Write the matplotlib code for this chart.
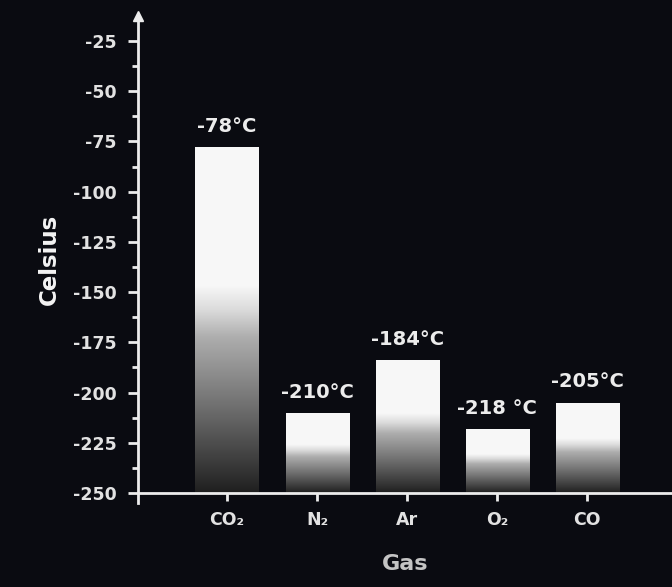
import numpy as np
import matplotlib
matplotlib.use("Agg")
import matplotlib.pyplot as plt

# Boiling points of common atmospheric gases
gases = ["CO\u2082", "N\u2082", "Ar", "O\u2082", "CO"]
temps = [-78, -210, -184, -218, -205]
labels = ["-78\u00b0C", "-210\u00b0C", "-184\u00b0C", "-218 \u00b0C", "-205\u00b0C"]
yticks = [-25, -50, -75, -100, -125, -150, -175, -200, -225, -250]

BG = "#0a0b11"
FG = "#ececec"
BASE = -250

plt.rcParams["font.family"] = ["DejaVu Sans"]
plt.rcParams["font.weight"] = "bold"

fig = plt.figure(figsize=(6.72, 5.87), dpi=100, facecolor=BG)
ax = fig.add_axes([0.205, 0.143, 0.795, 0.830])
ax.set_facecolor(BG)

x = np.arange(len(gases))
bars = ax.bar(x, np.array(temps) - BASE, bottom=BASE, width=0.7,
              color="none", edgecolor="none", zorder=2)

# white top, fading to dark grey toward the base of each bar
t = np.linspace(0, 1, 256)
shade = np.interp(t, [0, 0.06, 0.26, 0.45, 0.53, 0.6, 1],
                  [0.12, 0.2, 0.45, 0.68, 0.86, 0.97, 0.97])
grad = np.dstack([shade, shade, shade])[0][:, None, :]
for rect in bars:
    x0, w = rect.get_x(), rect.get_width()
    y0, h = rect.get_y(), rect.get_height()
    im = ax.imshow(grad, extent=[x0, x0 + w, y0, y0 + h], origin="lower",
                   aspect="auto", zorder=2, interpolation="bilinear")
    im.set_clip_path(rect)

for xi, v, lab in zip(x, temps, labels):
    ax.annotate(lab, (xi, v), xytext=(0, 8), textcoords="offset points",
                ha="center", va="bottom", color=FG, fontsize=14,
                fontweight="bold")

ax.set_xlim(-0.99, 4.94)
ax.set_ylim(-255, -12.5)

for s in ["top", "right"]:
    ax.spines[s].set_visible(False)
ax.spines["bottom"].set_position(("data", BASE))
for s in ["left", "bottom"]:
    ax.spines[s].set_color(FG)
    ax.spines[s].set_linewidth(2)
    ax.spines[s].set_zorder(3)

# arrow head on the y axis
ax.plot([-0.99], [-12.5], marker="^", color=FG, markersize=7,
        clip_on=False, zorder=4)

ax.set_yticks(yticks)
ax.set_yticks(np.arange(-237.5, -25, 25), minor=True)
ax.set_yticklabels([str(v) for v in yticks])
ax.set_xticks(x)
ax.set_xticklabels(gases)

ax.tick_params(axis="y", which="major", colors=FG, length=7, width=2,
               labelsize=12.5, pad=8)
ax.tick_params(axis="y", which="minor", colors=FG, length=4, width=2)
ax.tick_params(axis="x", colors=FG, length=6, width=2, labelsize=12.5, pad=7)
for lab in ax.get_xticklabels() + ax.get_yticklabels():
    lab.set_fontweight("bold")
    lab.set_color("#e2e2e2")

ax.set_ylabel("Celsius", color="#f4f4f4", fontsize=16.5, fontweight="bold",
              labelpad=9)
ax.set_xlabel("Gas", color="#c4c4c4", fontsize=16, fontweight="bold",
              labelpad=18)

fig.savefig("out.png", dpi=100, facecolor=BG)
